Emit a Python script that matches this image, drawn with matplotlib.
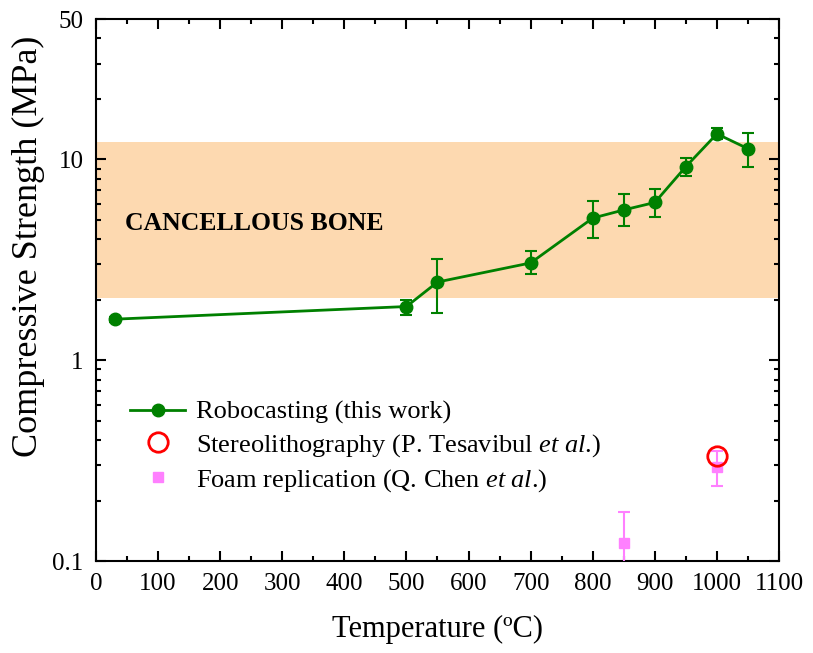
# Compressive strength vs. sintering temperature
import numpy as np
import matplotlib
matplotlib.use('Agg')
import matplotlib.pyplot as plt
from matplotlib.lines import Line2D
from matplotlib.ticker import MultipleLocator, FixedLocator, LogLocator, NullFormatter

plt.rcParams['font.family'] = ['Liberation Serif', 'DejaVu Serif']
plt.rcParams['mathtext.fontset'] = 'custom'
plt.rcParams['mathtext.rm'] = 'Liberation Serif'
plt.rcParams['mathtext.it'] = 'Liberation Serif:italic'

# 数据
robo_T = [30, 500, 550, 700, 800, 850, 900, 950, 1000, 1050]
robo_S = [1.6, 1.85, 2.45, 3.05, 5.1, 5.6, 6.1, 9.2, 13.4, 11.3]
robo_lo = [1.55, 1.68, 1.72, 2.7, 4.05, 4.65, 5.15, 8.3, 12.6, 9.2]
robo_hi = [1.65, 2.0, 3.2, 3.5, 6.2, 6.75, 7.1, 10.1, 14.4, 13.5]

stl_T = [1000]
stl_S = [0.335]

foam_T = [850, 1000]
foam_S = [0.123, 0.295]
foam_lo = [0.08, 0.235]
foam_hi = [0.175, 0.355]

bone_range = [2.05, 12.2]

W, H = 813, 653
fig = plt.figure(figsize=(W/100, H/100), dpi=100)
ax = fig.add_axes([96/W, 1-561/H, 683/W, 542/H])

green = '#008000'
pink = '#ff80ff'

ax.axhspan(bone_range[0], bone_range[1], color='#fdd9b0', zorder=0, lw=0)
ax.text(125, H-223, 'CANCELLOUS BONE', fontsize=18.5, fontweight='bold',
        va='center', ha='left', transform=None)

robo_S = np.array(robo_S)
yerr = [robo_S - np.array(robo_lo), np.array(robo_hi) - robo_S]
ax.errorbar(robo_T, robo_S, yerr=yerr, color=green, marker='o', ms=9, lw=2,
            capsize=4, elinewidth=1.5, capthick=1.5, zorder=3)

ax.plot(stl_T, stl_S, 'o', mfc='none', mec='red', mew=2, ms=14, zorder=4)

foam_S = np.array(foam_S)
ferr = [foam_S - np.array(foam_lo), np.array(foam_hi) - foam_S]
ax.errorbar(foam_T, foam_S, yerr=ferr, fmt='s', color=pink, ms=7.5, capsize=4,
            elinewidth=1.5, capthick=1.5, zorder=3)

ax.set_yscale('log')
ax.set_xlim(0, 1100)
ax.set_ylim(0.1, 50)
ax.xaxis.set_major_locator(MultipleLocator(100))
ax.xaxis.set_minor_locator(MultipleLocator(50))
ax.yaxis.set_major_locator(FixedLocator([0.1, 1, 10, 50]))
ax.set_yticklabels(['0.1', '1', '10', '50'])
ax.yaxis.set_minor_locator(LogLocator(base=10, subs=np.arange(2, 10)))
ax.yaxis.set_minor_formatter(NullFormatter())

ax.tick_params(which='both', direction='in', top=True, right=True, width=1.5)
ax.tick_params(which='major', length=7, labelsize=18)
ax.tick_params(axis='x', which='major', pad=9)
ax.tick_params(axis='y', which='major', pad=9)
ax.tick_params(which='minor', length=3.5)
for s in ax.spines.values():
    s.set_linewidth(1.5)

ax.set_xlabel('Temperature (ºC)', fontsize=22, labelpad=14)
fig.text(28/W, 1-246/H, 'Compressive Strength (MPa)', fontsize=26,
         rotation=90, ha='center', va='center')

handles = [
    Line2D([], [], color=green, marker='o', ms=9, lw=2),
    Line2D([], [], ls='none', marker='o', mfc='none', mec='red', mew=2, ms=14),
    Line2D([], [], ls='none', marker='s', color=pink, ms=7.5),
]
labels = ['Robocasting (this work)',
          'Stereolithography (P. Tesavibul $\\mathit{et\\ al}$.)',
          'Foam replication (Q. Chen $\\mathit{et\\ al}$.)']
ax.legend(handles, labels, loc='center left', bbox_to_anchor=(34/683, 1-(447-19)/542),
          frameon=False, fontsize=19, handlelength=2.1, labelspacing=0.3,
          handletextpad=0.4, borderaxespad=0, borderpad=0)

fig.savefig('out.png', dpi=100)
